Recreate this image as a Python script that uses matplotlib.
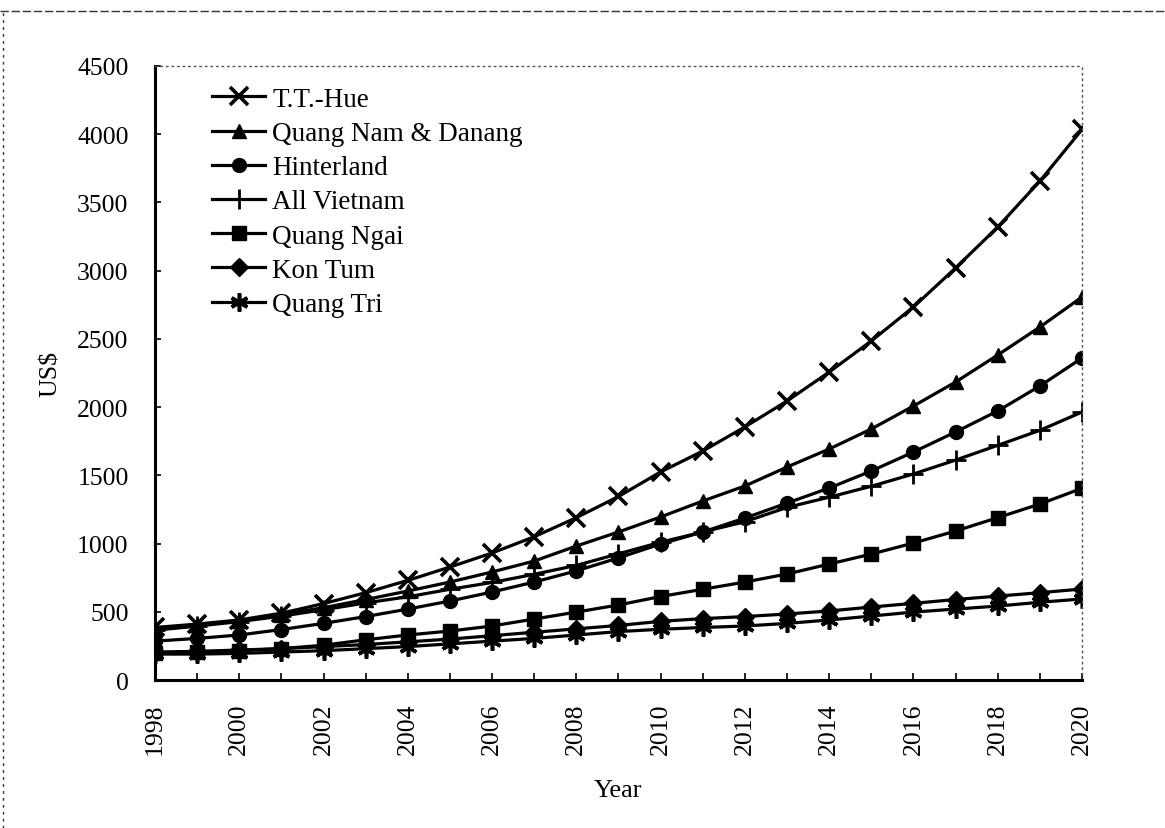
import matplotlib
matplotlib.use("Agg")
import matplotlib.pyplot as plt
from matplotlib.lines import Line2D
from matplotlib.ticker import MultipleLocator

years = list(range(1998, 2021))

tt_hue = [385, 410, 440, 490, 560, 640, 730, 828, 931, 1050, 1190, 1345,
          1525, 1678, 1855, 2045, 2257, 2485, 2734, 3020, 3320, 3657, 4035]
quang_nam_danang = [370, 400, 435, 480, 530, 590, 652, 718, 792, 872, 982, 1085,
                    1195, 1312, 1422, 1561, 1693, 1840, 2008, 2184, 2382, 2587, 2807]
hinterland = [285, 305, 330, 370, 415, 465, 520, 579, 645, 718, 800, 895,
              997, 1085, 1187, 1297, 1407, 1532, 1671, 1818, 1972, 2155, 2360]
all_vietnam = [365, 395, 428, 468, 515, 565, 610, 665, 715, 775, 840, 925,
               1010, 1085, 1160, 1265, 1340, 1420, 1510, 1612, 1720, 1830, 1964]
quang_ngai = [200, 205, 215, 230, 255, 295, 330, 359, 396, 447, 498, 550,
              612, 665, 718, 777, 850, 923, 1004, 1092, 1190, 1290, 1405]
kon_tum = [205, 210, 220, 230, 245, 260, 280, 300, 325, 350, 375, 400,
           430, 450, 465, 484, 506, 535, 562, 590, 615, 640, 667]
quang_tri = [190, 190, 195, 205, 215, 230, 245, 265, 285, 305, 330, 355,
             372, 385, 396, 415, 440, 469, 498, 520, 542, 570, 594]

series = [
    ("T.T.-Hue", tt_hue),
    ("Quang Nam & Danang", quang_nam_danang),
    ("Hinterland", hinterland),
    ("All Vietnam", all_vietnam),
    ("Quang Ngai", quang_ngai),
    ("Kon Tum", kon_tum),
    ("Quang Tri", quang_tri),
]

styles = {
    "T.T.-Hue": dict(marker="x", markersize=13, markeredgewidth=2.6),
    "Quang Nam & Danang": dict(marker="^", markersize=10),
    "Hinterland": dict(marker="o", markersize=10),
    "All Vietnam": dict(marker="+", markersize=15, markeredgewidth=2.0),
    "Quang Ngai": dict(marker="s", markersize=10),
    "Kon Tum": dict(marker="D", markersize=9),
    "Quang Tri": dict(marker=(6, 2, 0), markersize=13, markeredgewidth=2.6),
}

plt.rcParams["font.family"] = ["Liberation Serif", "DejaVu Serif"]

fig = plt.figure(figsize=(11.65, 8.29), dpi=100)
ax = fig.add_axes([0.133, 0.1785, 0.7958, 0.7407])

for name, vals in series:
    ax.plot(years, vals, color="black", linewidth=2.3, label=name,
            markerfacecolor="black", markeredgecolor="black", **styles[name])

ax.set_xlim(1998, 2020)
ax.set_ylim(0, 4500)
ax.yaxis.set_major_locator(MultipleLocator(500))
ax.xaxis.set_major_locator(MultipleLocator(2))
ax.xaxis.set_minor_locator(MultipleLocator(1))

ax.tick_params(axis="both", which="both", direction="in", color="black")
ax.tick_params(axis="y", which="major", length=4, width=1.2, labelsize=18.5, pad=19)
ax.tick_params(axis="x", which="major", length=5, width=1.2, labelsize=18.5,
               labelrotation=90, pad=16)
ax.tick_params(axis="x", which="minor", length=5, width=1.2)

for side in ("left", "bottom"):
    ax.spines[side].set_linewidth(2.2)
    ax.spines[side].set_color("black")
for side in ("top", "right"):
    ax.spines[side].set_linestyle((0, (1, 3)))
    ax.spines[side].set_linewidth(1.0)
    ax.spines[side].set_color("#555555")

ax.set_xlabel("Year", fontsize=19, labelpad=18)
ax.set_ylabel("US$", fontsize=18.5, labelpad=11)

leg = ax.legend(loc="upper left", bbox_to_anchor=(0.0615, 0.966), frameon=False,
                fontsize=19.5, handlelength=1.96, handletextpad=0.26,
                labelspacing=0.34, borderaxespad=0.0, borderpad=0.0)

# dashed outer frame along the top and left edges of the page
fig.add_artist(Line2D([0.0, 1.0], [0.9855, 0.9855], transform=fig.transFigure,
                      color="#333333", linewidth=1.0, linestyle=(0, (6, 2))))
fig.add_artist(Line2D([0.003, 0.003], [0.0, 0.9855], transform=fig.transFigure,
                      color="#333333", linewidth=1.0, linestyle=(0, (2, 3))))

fig.savefig("out.png", dpi=100, facecolor="white")
